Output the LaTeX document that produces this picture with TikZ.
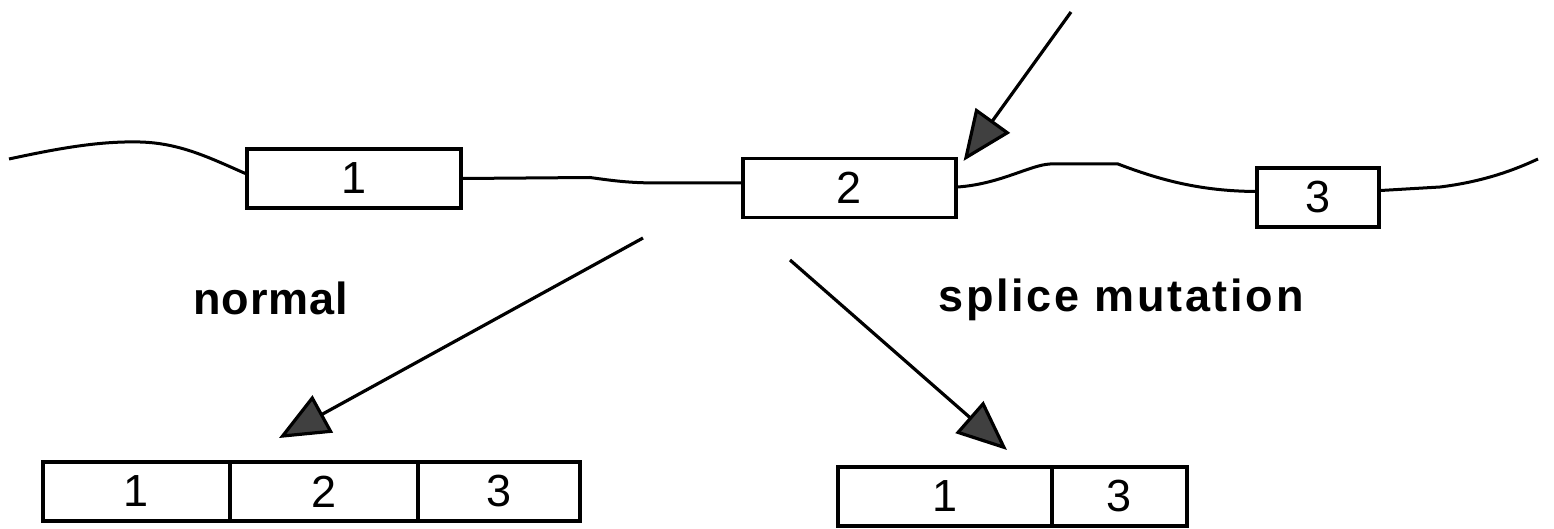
\documentclass[tikz,border=0pt]{standalone}
\usepackage{fontspec}
\setmainfont{Liberation Sans}
\newfontfamily\labelA[LetterSpace=2.0]{Liberation Sans}
\newfontfamily\labelB[LetterSpace=6.0]{Liberation Sans}
\usetikzlibrary{arrows.meta,calc}
\tikzset{
  exon/.style={draw=black, line width=1.6pt, fill=white, inner sep=0pt,
    minimum height=29.5pt, font=\fontsize{22.5}{26}\selectfont},
  dna/.style={line width=1.5pt, black},
  bigarrow/.style={line width=1.6pt, black,
    -{Triangle[length=25pt,width=21pt,fill=black!75]}},
  lbl/.style={font=\bfseries\fontsize{22.5}{27}\selectfont, inner sep=0pt}
}
\begin{document}
\begin{tikzpicture}[x=0.5pt,y=-0.5pt]
\useasboundingbox (0,0) rectangle (1554,529);
% genomic exons
\node[exon, minimum width=107pt] (t1) at (354,178.5) {1};
\node[exon, minimum width=106.5pt] (t2) at (849.5,188) {2};
\node[exon, minimum width=61pt] (t3) at (1318,197.5) {3};
% genomic line (introns)
\coordinate (g0) at (9,159);
\coordinate (g9) at (1538,159);
\draw[dna] (g0) .. controls (60,148) and (100,141) .. (140,142)
  .. controls (180,143) and (210,158) .. ($(t1.west)+(0,-5)$);
\draw[dna] (t1.east) -- (590,177.5) .. controls (615,181) and (630,183) .. (660,183)
  -- ($(t2.west)+(0,-5)$);
\draw[dna] ($(t2.east)+(0,-1)$) .. controls (1000,184) and (1030,165) .. (1050,164)
  -- (1118,164) .. controls (1160,180) and (1200,191) .. ($(t3.west)+(0,-6)$);
\draw[dna] ($(t3.east)+(0,-7)$) -- (1440,187) .. controls (1480,182) and (1510,172) .. (g9);
% mutation arrow
\coordinate (mstart) at (1071,12);
\draw[bigarrow] (mstart) -- ($(t2.north east)+(6,4)$);
% labels
\node[lbl, anchor=base west] (lnormal) at (193,315) {\labelA normal};
\node[lbl, anchor=base west] (lsplice) at (938,312) {\labelB splice mutation};
% mRNA products
\node[exon, minimum width=93.5pt] (b1) at (136.5,491.5) {1};
\node[exon, minimum width=94pt] (b2) at (324,491.5) {2};
\node[exon, minimum width=81pt] (b3) at (499,491.5) {3};
\node[exon, minimum width=107pt] (c1) at (945,496.5) {1};
\node[exon, minimum width=67.5pt] (c3) at (1119.5,496.5) {3};
% branching arrows
\coordinate (nstart) at (643,238);
\coordinate (ntip) at (279,438);
\coordinate (sstart) at (790,260);
\coordinate (stip) at (1007,450);
\draw[bigarrow] (nstart) -- (ntip);
\draw[bigarrow] (sstart) -- (stip);
\end{tikzpicture}
\end{document}
